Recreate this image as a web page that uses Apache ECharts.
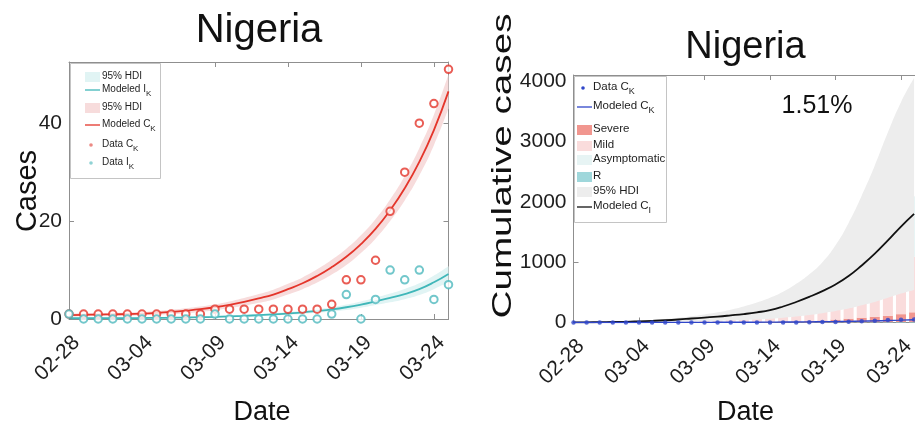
<!DOCTYPE html>
<html>
<head>
<meta charset="utf-8">
<script src="https://cdn.jsdelivr.net/npm/echarts@6/dist/echarts.min.js"></script>
<style>
html,body{margin:0;padding:0;background:#fff;}
#chart{width:915px;height:432px;}
</style>
</head>
<body>
<div id="chart"></div>
<script>
// Daily dates, 2020-02-28 .. 2020-03-25
const dates = ['02-28','02-29','03-01','03-02','03-03','03-04','03-05','03-06','03-07','03-08',
  '03-09','03-10','03-11','03-12','03-13','03-14','03-15','03-16','03-17','03-18',
  '03-19','03-20','03-21','03-22','03-23','03-24','03-25'];
// The right panel's axis runs one day further than the data
const datesRight = dates.concat(['03-26']);

// Reported cumulative (C_K) and daily new (I_K) cases
const dataCK = [1,1,1,1,1,1,1,1,1,1,2,2,2,2,2,2,2,2,3,8,8,12,22,30,40,44,51];
const dataIK = [1,0,0,0,0,0,0,0,0,0,1,0,0,0,0,0,0,0,1,5,0,4,10,8,10,4,7];

// Modeled reported cases with 95% HDI
const modeledCK = [0.8,0.85,0.9,0.95,1.0,1.1,1.25,1.45,1.7,2.0,2.4,2.9,3.5,4.2,5.0,6.1,7.3,8.8,10.6,12.7,15.3,18.4,22.2,26.7,32.1,38.6,46.5];
const ckLow  = [0.5,0.55,0.6,0.65,0.65,0.75,0.85,1.0,1.2,1.45,1.8,2.2,2.7,3.3,4.0,5.0,6.1,7.45,9.1,11.05,13.5,16.4,20.0,24.2,29.3,35.5,43.0];
const ckHigh = [1.1,1.15,1.2,1.25,1.35,1.45,1.65,1.9,2.2,2.55,3.0,3.6,4.3,5.1,6.0,7.2,8.5,10.15,12.1,14.35,17.1,20.4,24.4,29.2,34.9,41.7,50.0];
const modeledIK = [0.15,0.16,0.17,0.18,0.19,0.2,0.23,0.27,0.31,0.37,0.44,0.54,0.65,0.78,0.93,1.13,1.35,1.63,1.96,2.4,2.95,3.6,4.3,5.1,6.1,7.5,9.2];
const ikLow  = [0.08,0.09,0.1,0.1,0.11,0.12,0.14,0.17,0.2,0.25,0.3,0.38,0.47,0.57,0.69,0.85,1.03,1.26,1.53,1.85,2.3,2.85,3.4,4.05,4.9,6.1,7.6];
const ikHigh = [0.22,0.23,0.24,0.26,0.27,0.28,0.32,0.37,0.42,0.49,0.58,0.7,0.83,0.99,1.17,1.41,1.67,2.0,2.39,2.95,3.6,4.35,5.2,6.15,7.3,8.9,10.8];

// Modeled cumulative infections (C_I) with 95% HDI
const modeledCI = [1,3,5,8,12,19,27,37,50,66,82,98,118,140,168,205,265,340,425,520,630,770,945,1140,1360,1590,1800];
const ciLow  = [0,1,2,3,4,6,8,11,15,20,25,30,36,42,50,62,80,100,125,155,190,230,285,340,410,480,540];
const ciHigh = [3,6,10,15,22,30,42,58,78,102,132,168,212,265,330,410,510,640,800,1000,1280,1650,2100,2600,3150,3650,4050];

// Composition of cumulative infections
const recovered    = [0,0,0,0,0,0,0,0,0,0,0,0,0,0,1,1,1,2,2,3,3,4,5,6,7,8,9];
const severe       = [1,1,1,1,1,1,1,1,1,2,2,3,4,5,7,9,12,15,20,30,45,60,75,90,105,130,160];
const mild         = [1,2,3,4,5,7,9,12,15,18,24,31,40,51,65,83,106,135,175,220,265,320,390,480,605,750,920];
const asymptomatic = [2,2,3,4,5,7,9,11,14,18,24,31,40,50,64,82,105,135,175,225,280,340,420,510,640,800,1000];

const ratioText = '1.51%';

const FONT = '"Liberation Sans", Arial, Helvetica, sans-serif';
const BOX = '#8f8f8f';
const INK = '#1e1e1e';

const C = {
  red: '#e4352b', redBand: '#f7dcdc',
  teal: '#40b7b9', tealBand: '#e1f4f4',
  blue: '#3046c9', black: '#111111', gray: '#ededed',
  severe: '#f1968f', mild: '#fadcdc', asym: '#e7f4f4', rec: '#9fd7db'
};

function xAxes(gridIndex, cats) {
  const base = {
    type: 'category', gridIndex, data: cats, boundaryGap: false,
    axisLine: { show: true, onZero: false, lineStyle: { color: BOX, width: 1 } },
    axisTick: { show: true, inside: true, length: 5, interval: 4, lineStyle: { color: BOX } },
    splitLine: { show: false }
  };
  return [
    Object.assign({}, base, {
      position: 'bottom',
      axisLabel: { interval: 4, rotate: 45, fontSize: 21, fontFamily: FONT, color: INK,
        margin: 13, align: 'right', verticalAlign: 'top' }
    }),
    Object.assign({}, base, { position: 'top', axisLabel: { show: false } })
  ];
}

function yAxes(gridIndex, max, interval) {
  const base = {
    type: 'value', gridIndex, min: 0, max, interval,
    axisLine: { show: true, onZero: false, lineStyle: { color: BOX, width: 1 } },
    axisTick: { show: true, inside: true, length: 5, lineStyle: { color: BOX } },
    splitLine: { show: false }
  };
  return [
    Object.assign({}, base, {
      position: 'left',
      axisLabel: { fontSize: 21, fontFamily: FONT, color: INK, margin: 7, showMaxLabel: false,
        formatter: v => String(v) }
    }),
    Object.assign({}, base, { position: 'right', axisLabel: { show: false } })
  ];
}

// Shaded interval: invisible lower edge plus stacked (high - low) area
function band(id, low, high, color, xi, yi) {
  const common = { type: 'line', xAxisIndex: xi, yAxisIndex: yi, stack: id, symbol: 'none',
    smooth: true, silent: true, lineStyle: { width: 0, opacity: 0 } };
  return [
    Object.assign({}, common, { name: id + '-base', data: low }),
    Object.assign({}, common, { name: id, data: high.map((h, i) => h - low[i]),
      areaStyle: { color, opacity: 1 } })
  ];
}

function modelLine(name, data, color, width, xi, yi) {
  return { type: 'line', name, data, xAxisIndex: xi, yAxisIndex: yi, symbol: 'none',
    smooth: true, lineStyle: { color, width }, itemStyle: { color } };
}

function stackBar(name, data, color) {
  return { type: 'bar', name, data, xAxisIndex: 2, yAxisIndex: 2, stack: 'composition',
    barWidth: 10, itemStyle: { color }, emphasis: { disabled: true } };
}

// Legend rows drawn as graphic elements
function legendRows(iconX, textX, fontSize, rows) {
  const out = [];
  rows.forEach(r => {
    if (r.kind === 'patch') {
      out.push({ type: 'rect', z: 101, shape: { x: iconX, y: r.y - 5, width: 15, height: 10 }, style: { fill: r.color } });
    } else if (r.kind === 'line') {
      out.push({ type: 'line', z: 101, shape: { x1: iconX, y1: r.y, x2: iconX + 15, y2: r.y }, style: { stroke: r.color, lineWidth: 1.3 } });
    } else {
      out.push({ type: 'circle', z: 101, shape: { cx: iconX + 6, cy: r.y, r: 1.8 }, style: { fill: r.color } });
    }
    out.push({
      type: 'text', z: 102, x: textX, y: r.y,
      style: {
        text: r.sub ? '{a|' + r.label + '}{s|' + r.sub + '}' : '{a|' + r.label + '}',
        verticalAlign: 'middle', align: 'left',
        rich: {
          a: { fontSize, fontFamily: FONT, fill: INK, lineHeight: fontSize + 2, verticalAlign: 'top' },
          s: { fontSize: Math.round(fontSize * 0.78), fontFamily: FONT, fill: INK,
               lineHeight: Math.round(fontSize * 0.8), verticalAlign: 'top',
               padding: [Math.round(fontSize * 0.55), 0, 0, 0] }
        }
      }
    });
  });
  return out;
}

const leftLegend = [
  { type: 'rect', z: 100, shape: { x: 70.5, y: 63.5, width: 90, height: 115 }, style: { fill: '#fff', stroke: '#c4c4c4', lineWidth: 1 } }
].concat(legendRows(85, 102, 10, [
  { kind: 'patch', color: C.tealBand, label: '95% HDI', y: 77 },
  { kind: 'line', color: C.teal, label: 'Modeled I', sub: 'K', y: 90 },
  { kind: 'patch', color: C.redBand, label: '95% HDI', y: 108 },
  { kind: 'line', color: C.red, label: 'Modeled C', sub: 'K', y: 125 },
  { kind: 'dot', color: '#ec8a84', label: 'Data C', sub: 'K', y: 145 },
  { kind: 'dot', color: '#8fd2d4', label: 'Data I', sub: 'K', y: 163 }
]));

const rightLegend = [
  { type: 'rect', z: 100, shape: { x: 574.5, y: 76.5, width: 92, height: 146 }, style: { fill: '#fff', stroke: '#c4c4c4', lineWidth: 1 } }
].concat(legendRows(577, 593, 11.5, [
  { kind: 'dot', color: C.blue, label: 'Data C', sub: 'K', y: 88 },
  { kind: 'line', color: C.blue, label: 'Modeled C', sub: 'K', y: 107 },
  { kind: 'patch', color: C.severe, label: 'Severe', y: 130 },
  { kind: 'patch', color: C.mild, label: 'Mild', y: 146 },
  { kind: 'patch', color: C.asym, label: 'Asymptomatic', y: 160 },
  { kind: 'patch', color: C.rec, label: 'R', y: 177 },
  { kind: 'patch', color: C.gray, label: '95% HDI', y: 192 },
  { kind: 'line', color: C.black, label: 'Modeled C', sub: 'I', y: 207 }
]));

function label(text, x, y, size, extra) {
  return Object.assign({ type: 'text', x, y, z: 50,
    style: { text, font: size + 'px ' + FONT, fill: '#111', align: 'center', verticalAlign: 'middle' } }, extra || {});
}

const texts = [
  label('Nigeria', 259, 31, 40),
  label('Nigeria', 745.5, 48, 38),
  label(ratioText, 817, 106, 25),
  label('Cases', 28, 191, 29, { rotation: Math.PI / 2 }),
  label('Cumulative cases', 503, 166, 28, { rotation: Math.PI / 2, scaleX: 1.38 }),
  label('Date', 262, 413, 27),
  label('Date', 745.5, 413, 27)
];

const option = {
  backgroundColor: '#ffffff',
  animation: false,
  textStyle: { fontFamily: FONT },
  grid: [
    { left: 69, top: 62, width: 379.5, height: 257, containLabel: false, outerBoundsMode: 'none' },
    { left: 573.5, top: 75, width: 353.7, height: 247.5, containLabel: false, outerBoundsMode: 'none' }
  ],
  xAxis: xAxes(0, dates).concat(xAxes(1, datesRight)),
  yAxis: yAxes(0, 52.5, 20).concat(yAxes(1, 4100, 1000)),
  series: [].concat(
    band('hdiIK', ikLow, ikHigh, C.tealBand, 0, 0),
    band('hdiCK', ckLow, ckHigh, C.redBand, 0, 0),
    [
      modelLine('Modeled I_K', modeledIK, C.teal, 1.8, 0, 0),
      modelLine('Modeled C_K', modeledCK, C.red, 1.8, 0, 0),
      { type: 'scatter', name: 'Data C_K', data: dataCK, xAxisIndex: 0, yAxisIndex: 0,
        symbol: 'emptyCircle', symbolSize: 7.5, itemStyle: { color: C.red, borderWidth: 1.6 }, z: 5 },
      { type: 'scatter', name: 'Data I_K', data: dataIK, xAxisIndex: 0, yAxisIndex: 0,
        symbol: 'emptyCircle', symbolSize: 7.5, itemStyle: { color: '#4fb9be', borderWidth: 1.6 }, z: 5 }
    ],
    band('hdiCI', ciLow, ciHigh, C.gray, 2, 2),
    [
      stackBar('R', recovered, C.rec),
      stackBar('Severe', severe, C.severe),
      stackBar('Mild', mild, C.mild),
      stackBar('Asymptomatic', asymptomatic, C.asym),
      modelLine('Modeled C_I', modeledCI, C.black, 1.8, 2, 2),
      modelLine('Modeled C_K (right)', modeledCK, C.blue, 1.4, 2, 2),
      { type: 'scatter', name: 'Data C_K (right)', data: dataCK, xAxisIndex: 2, yAxisIndex: 2,
        symbol: 'circle', symbolSize: 4.5, itemStyle: { color: C.blue }, z: 6 }
    ]
  ),
  graphic: { elements: texts.concat(leftLegend, rightLegend) }
};

const chart = echarts.init(document.getElementById('chart'), null, { renderer: 'canvas' });
chart.setOption(option);
</script>
</body>
</html>
